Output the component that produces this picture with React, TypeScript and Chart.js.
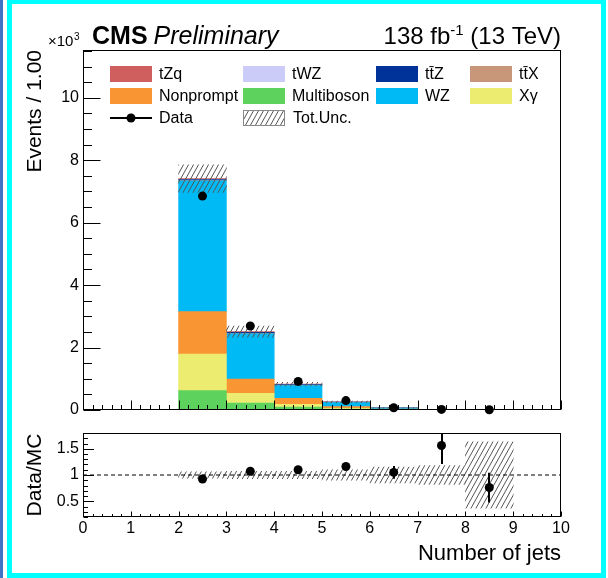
import React, { useEffect, useRef } from "react";
import { Chart, registerables } from "chart.js";

Chart.register(...registerables);

const FONT = '"Liberation Sans", Arial, Helvetica, sans-serif';
Chart.defaults.font.family = FONT;
Chart.defaults.color = "#000";

// Jet-multiplicity bins (bin centres, width 1)
const binCenters = [2.5, 3.5, 4.5, 5.5, 6.5, 7.5, 8.5];

// Expected yields per bin, in units of 10^3 events (stacked bottom to top)
const multiboson = [0.62, 0.22, 0.09, 0.03, 0.008, 0.0015, 0.001];
const xGamma = [1.17, 0.31, 0.09, 0.025, 0.006, 0.001, 0.0008];
const nonprompt = [1.36, 0.46, 0.19, 0.055, 0.016, 0.003, 0.002];
const wz = [4.19, 1.45, 0.41, 0.125, 0.03, 0.005, 0.0035];
const ttX = [0.01, 0.01, 0.008, 0.005, 0.002, 0.0005, 0.0004];
const ttZ = [0.03, 0.035, 0.03, 0.015, 0.006, 0.0015, 0.0012];
const tWZ = [0.005, 0.004, 0.003, 0.002, 0.001, 0.0002, 0.0002];
const tZq = [0.025, 0.02, 0.01, 0.003, 0.001, 0.0001, 0.0001];

// Observed data (10^3 events) and its statistical uncertainty
const dataYield = [6.85, 2.69, 0.915, 0.302, 0.0735, 0.02, 0.007];
const dataErr = [0.083, 0.052, 0.03, 0.017, 0.0086, 0.0045, 0.0026];

// Relative total uncertainty of the prediction
const mcUncRel = [0.06, 0.07, 0.07, 0.1, 0.15, 0.18, 0.63];

// Axis tick labels
const xTickValues = [0, 1, 2, 3, 4, 5, 6, 7, 8, 9, 10];
const mainYTickValues = [0, 2, 4, 6, 8, 10];
const ratioYTickValues = [0.5, 1, 1.5];

const seriesNames = ["Multiboson", "X\u03b3", "Nonprompt", "WZ", "tt\u0304X", "tt\u0304Z", "tWZ", "tZq"];
const seriesColors = ["#5dd35d", "#ecec70", "#f99533", "#00baf5", "#c8977a", "#00339a", "#ccccf8", "#cf5f5f"];
const seriesValues = [multiboson, xGamma, nonprompt, wz, ttX, ttZ, tWZ, tZq];

// legend grid: [series name, column, row]
const legendCells: [string, number, number][] = [
  ["tZq", 0, 0], ["tWZ", 1, 0], ["tt\u0304Z", 2, 0], ["tt\u0304X", 3, 0],
  ["Nonprompt", 0, 1], ["Multiboson", 1, 1], ["WZ", 2, 1], ["X\u03b3", 3, 1],
];
const legendColX = [110, 243, 376, 470];
const legendRowY = [74, 96, 118];

function makeHatch(color: string): CanvasPattern {
  const c = document.createElement("canvas");
  c.width = 5;
  c.height = 9;
  const g = c.getContext("2d")!;
  g.strokeStyle = color;
  g.lineWidth = 1;
  g.beginPath();
  for (const dx of [-5, 0, 5]) {
    g.moveTo(dx, 9);
    g.lineTo(dx + 5, 0);
  }
  g.stroke();
  return g.createPattern(c, "repeat")!;
}

type TickSpec = { major: number; minor: number; majLen: number; minLen: number };

function frameTicksPlugin(xt: TickSpec, yt: TickSpec, values: number[], errs: number[]) {
  return {
    id: "frameTicks",
    afterDatasetsDraw(chart: any) {
      const { ctx, chartArea: a } = chart;
      const xs = chart.scales.x;
      const ys = chart.scales.y;
      // vertical error bars on the data points
      ctx.save();
      ctx.beginPath();
      ctx.rect(a.left, a.top, a.right - a.left, a.bottom - a.top);
      ctx.clip();
      ctx.strokeStyle = "#000";
      ctx.lineWidth = 2;
      ctx.beginPath();
      binCenters.forEach((x, i) => {
        const px = Math.round(xs.getPixelForValue(x));
        ctx.moveTo(px, ys.getPixelForValue(values[i] - errs[i]));
        ctx.lineTo(px, ys.getPixelForValue(values[i] + errs[i]));
      });
      ctx.stroke();
      ctx.restore();

      // frame and inward ticks
      ctx.save();
      ctx.strokeStyle = "#000";
      ctx.lineWidth = 1;
      const x0 = Math.round(a.left) + 0.5;
      const x1 = Math.round(a.right) - 0.5;
      const y0 = Math.round(a.top) + 0.5;
      const y1 = Math.round(a.bottom) - 0.5;
      ctx.strokeRect(x0, y0, x1 - x0, y1 - y0);
      ctx.beginPath();
      const nx = Math.round((xs.max - xs.min) / xt.minor);
      for (let k = 0; k <= nx; k++) {
        const v = xs.min + k * xt.minor;
        const isMajor = Math.abs(v / xt.major - Math.round(v / xt.major)) < 1e-6;
        const px = Math.round(xs.getPixelForValue(v)) + 0.5;
        ctx.moveTo(px, y1);
        ctx.lineTo(px, y1 - (isMajor ? xt.majLen : xt.minLen));
      }
      const first = Math.ceil(ys.min / yt.minor - 1e-6);
      const last = Math.floor(ys.max / yt.minor + 1e-6);
      for (let k = first; k <= last; k++) {
        const v = k * yt.minor;
        const isMajor = Math.abs(v / yt.major - Math.round(v / yt.major)) < 1e-6;
        const py = Math.round(ys.getPixelForValue(v)) + 0.5;
        ctx.moveTo(x0, py);
        ctx.lineTo(x0 + (isMajor ? yt.majLen : yt.minLen), py);
      }
      ctx.stroke();
      ctx.restore();
    },
  };
}

function headerLegendPlugin(hatch: CanvasPattern) {
  return {
    id: "headerLegend",
    afterDraw(chart: any) {
      const ctx: CanvasRenderingContext2D = chart.ctx;
      ctx.save();
      ctx.fillStyle = "#000";
      ctx.textBaseline = "alphabetic";

      // exponent of the y axis
      ctx.font = `15px ${FONT}`;
      ctx.textAlign = "left";
      ctx.fillText("\u00d710", 48, 46);
      const w10 = ctx.measureText("\u00d710").width;
      ctx.font = `10px ${FONT}`;
      ctx.fillText("3", 48 + w10 + 0.5, 40);

      // experiment label
      ctx.font = `bold 25px ${FONT}`;
      ctx.fillText("CMS", 92, 44);
      const wCms = ctx.measureText("CMS").width;
      ctx.font = `italic 25px ${FONT}`;
      ctx.fillText("Preliminary", 92 + wCms + 6, 44);

      // luminosity label, right aligned to the frame
      const right = chart.chartArea.right;
      ctx.font = `24px ${FONT}`;
      const tail = " (13 TeV)";
      const wTail = ctx.measureText(tail).width;
      ctx.fillText(tail, right - wTail, 44);
      ctx.font = `15px ${FONT}`;
      const sup = "-1";
      const wSup = ctx.measureText(sup).width;
      ctx.fillText(sup, right - wTail - wSup, 35);
      ctx.font = `24px ${FONT}`;
      const head = "138 fb";
      const wHead = ctx.measureText(head).width;
      ctx.fillText(head, right - wTail - wSup - wHead, 44);

      // legend
      ctx.font = `16px ${FONT}`;
      ctx.textBaseline = "middle";
      const boxW = 42;
      const boxH = 16;
      legendCells.forEach(([name, col, row]) => {
        const idx = seriesNames.indexOf(name);
        const bx = legendColX[col];
        const cy = legendRowY[row];
        ctx.fillStyle = seriesColors[idx];
        ctx.fillRect(bx, cy - boxH / 2, boxW, boxH);
        ctx.fillStyle = "#000";
        ctx.fillText(name, bx + 49, cy + 1);
      });
      // data entry
      const dy = legendRowY[2];
      ctx.strokeStyle = "#000";
      ctx.lineWidth = 2;
      ctx.beginPath();
      ctx.moveTo(legendColX[0], dy);
      ctx.lineTo(legendColX[0] + boxW, dy);
      ctx.stroke();
      ctx.beginPath();
      ctx.arc(legendColX[0] + boxW / 2, dy, 4.5, 0, Math.PI * 2);
      ctx.fill();
      ctx.fillText("Data", legendColX[0] + 49, dy + 1);
      // uncertainty entry
      const ux = legendColX[1];
      ctx.fillStyle = hatch;
      ctx.fillRect(ux, dy - boxH / 2, boxW, boxH);
      ctx.strokeStyle = "#888";
      ctx.lineWidth = 1;
      ctx.strokeRect(ux + 0.5, dy - boxH / 2 + 0.5, boxW - 1, boxH - 1);
      ctx.fillStyle = "#000";
      ctx.fillText("Tot.Unc.", ux + 50, dy + 1);
      ctx.restore();
    },
  };
}

// fixed-width y axis that does not reserve extra room for its end labels
const fixedYAxis = (s: any) => {
  s.width = 83;
  s.paddingTop = 0;
  s.paddingBottom = 0;
};

export default function App() {
  const mainRef = useRef<HTMLCanvasElement>(null);
  const ratioRef = useRef<HTMLCanvasElement>(null);

  useEffect(() => {
    const hatch = makeHatch("#555");
    const totals = binCenters.map((_, i) => seriesValues.reduce((s, arr) => s + arr[i], 0));
    const ratio = binCenters.map((_, i) => dataYield[i] / totals[i]);
    const ratioErr = binCenters.map((_, i) => dataErr[i] / totals[i]);

    const stackSets = seriesValues.map((vals, k) => ({
      type: "bar" as const,
      label: seriesNames[k],
      data: binCenters.map((x, i) => ({ x, y: vals[i] })),
      backgroundColor: seriesColors[k],
      borderWidth: 0,
      stack: "mc",
      grouped: false,
      barPercentage: 1,
      categoryPercentage: 1,
    }));

    const main = new Chart(mainRef.current!, {
      type: "bar",
      data: {
        datasets: [
          {
            type: "line",
            label: "Data",
            data: binCenters.map((x, i) => ({ x, y: dataYield[i] })),
            showLine: false,
            pointRadius: 4.5,
            pointBackgroundColor: "#000",
            pointBorderWidth: 0,
            borderColor: "#000",
            stack: "data",
            clip: false,
          } as any,
          {
            type: "bar",
            label: "Tot.Unc.",
            data: binCenters.map((x, i) => ({
              x,
              y: [totals[i] * (1 - mcUncRel[i]), totals[i] * (1 + mcUncRel[i])],
            })),
            backgroundColor: hatch,
            borderWidth: 0,
            stack: "unc",
            grouped: false,
            barPercentage: 1,
            categoryPercentage: 1,
          } as any,
          ...(stackSets as any[]),
        ],
      },
      options: {
        responsive: false,
        animation: false,
        layout: { padding: { top: 50, right: 47, left: 0, bottom: 0 } },
        plugins: { legend: { display: false }, tooltip: { enabled: false } },
        scales: {
          x: {
            type: "linear",
            min: 0,
            max: 10,
            offset: false,
            grid: { display: false, drawTicks: false },
            border: { display: false },
            ticks: { display: false },
            afterBuildTicks: (s: any) => {
              s.ticks = xTickValues.map((v) => ({ value: v }));
            },
            afterFit: (s: any) => {
              s.height = 10;
            },
          },
          y: {
            type: "linear",
            min: 0,
            max: 11.53,
            stacked: true,
            grid: { display: false, drawTicks: false },
            border: { display: false },
            ticks: { padding: 4, font: { size: 16 }, color: "#000", callback: (v: any) => String(v) },
            afterBuildTicks: (s: any) => {
              s.ticks = mainYTickValues.map((v) => ({ value: v }));
            },
            afterFit: fixedYAxis,
            title: {
              display: true,
              text: "Events / 1.00",
              align: "end",
              color: "#000",
              font: { size: 21 },
              padding: { top: 23, bottom: 0 },
            },
          },
        },
      } as any,
      plugins: [
        frameTicksPlugin(
          { major: 1, minor: 0.2, majLen: 9, minLen: 4.5 },
          { major: 2, minor: 0.5, majLen: 17, minLen: 8.5 },
          dataYield,
          dataErr
        ),
        headerLegendPlugin(hatch),
      ],
    });

    const ratioChart = new Chart(ratioRef.current!, {
      type: "bar",
      data: {
        datasets: [
          {
            type: "line",
            label: "Data/MC",
            data: binCenters.map((x, i) => ({ x, y: ratio[i] })),
            showLine: false,
            pointRadius: 4.5,
            pointBackgroundColor: "#000",
            pointBorderWidth: 0,
            borderColor: "#000",
            clip: false,
          } as any,
          {
            type: "line",
            label: "unity",
            data: [
              { x: 0, y: 1 },
              { x: 10, y: 1 },
            ],
            borderColor: "#000",
            borderWidth: 1,
            borderDash: [4, 3],
            pointRadius: 0,
          } as any,
          {
            type: "bar",
            label: "Tot.Unc.",
            data: binCenters.map((x, i) => ({ x, y: [1 - mcUncRel[i], 1 + mcUncRel[i]] })),
            backgroundColor: hatch,
            borderWidth: 0,
            grouped: false,
            barPercentage: 1,
            categoryPercentage: 1,
          } as any,
        ],
      },
      options: {
        responsive: false,
        animation: false,
        layout: { padding: { top: 13, right: 47, left: 0, bottom: 0 } },
        plugins: { legend: { display: false }, tooltip: { enabled: false } },
        scales: {
          x: {
            type: "linear",
            min: 0,
            max: 10,
            offset: false,
            grid: { display: false, drawTicks: false },
            border: { display: false },
            ticks: { padding: 2, font: { size: 16 }, color: "#000", callback: (v: any) => String(v) },
            afterBuildTicks: (s: any) => {
              s.ticks = xTickValues.map((v) => ({ value: v }));
            },
            afterFit: (s: any) => {
              s.height = 61;
            },
            title: {
              display: true,
              text: "Number of jets",
              align: "end",
              color: "#000",
              font: { size: 22 },
              padding: { top: 0, bottom: 11 },
            },
          },
          y: {
            type: "linear",
            min: 0.2,
            max: 1.8,
            grid: { display: false, drawTicks: false },
            border: { display: false },
            ticks: { padding: 4, font: { size: 16 }, color: "#000", callback: (v: any) => String(v) },
            afterBuildTicks: (s: any) => {
              s.ticks = ratioYTickValues.map((v) => ({ value: v }));
            },
            afterFit: fixedYAxis,
            title: {
              display: true,
              text: "Data/MC",
              align: "center",
              color: "#000",
              font: { size: 21 },
              padding: { top: 23, bottom: 0 },
            },
          },
        },
      } as any,
      plugins: [
        frameTicksPlugin(
          { major: 1, minor: 0.2, majLen: 5, minLen: 2.5 },
          { major: 0.5, minor: 0.1, majLen: 10.5, minLen: 4.5 },
          ratio,
          ratioErr
        ),
      ],
    });

    return () => {
      main.destroy();
      ratioChart.destroy();
    };
  }, []);

  return (
    <div
      style={{
        position: "absolute",
        left: 0,
        top: 0,
        width: 608,
        height: 578,
        background: "#fff",
        overflow: "hidden",
      }}
    >
      <div style={{ position: "absolute", left: 0, top: 0, width: 3, height: 578, background: "#4472c4" }} />
      <div
        style={{
          position: "absolute",
          left: 7,
          top: 0,
          width: 599,
          height: 578,
          boxSizing: "border-box",
          borderStyle: "solid",
          borderColor: "#00ffff",
          borderWidth: "4px 5px 5px 5px",
        }}
      />
      <canvas ref={mainRef} width={608} height={420} style={{ position: "absolute", left: 0, top: 0 }} />
      <canvas ref={ratioRef} width={608} height={158} style={{ position: "absolute", left: 0, top: 420 }} />
    </div>
  );
}
